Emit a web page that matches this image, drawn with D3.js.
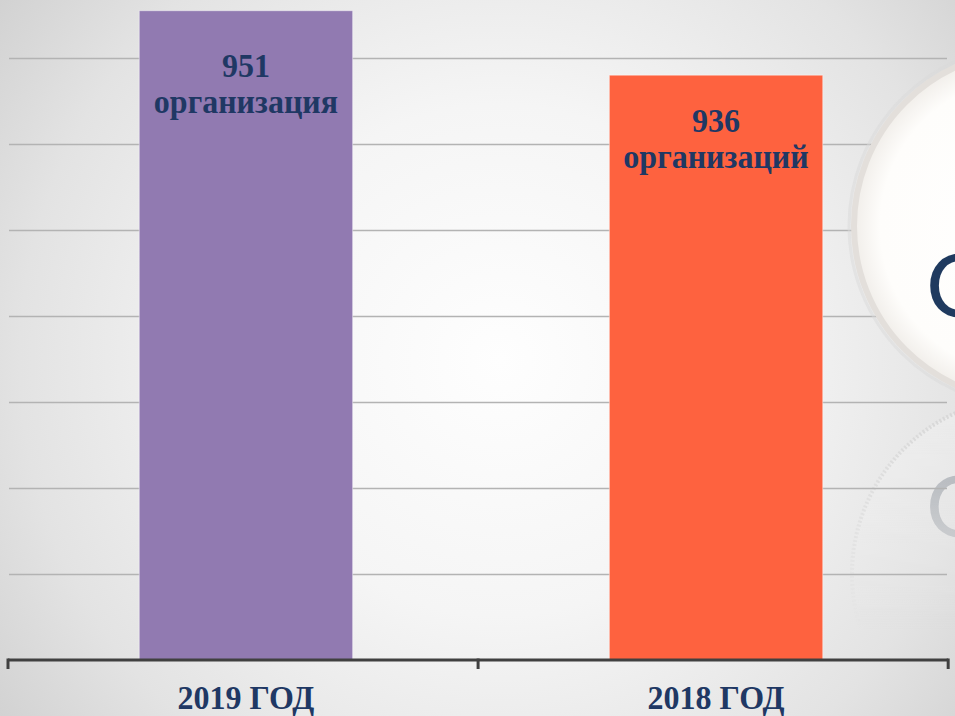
<!DOCTYPE html>
<html>
<head>
<meta charset="utf-8">
<script src="https://cdn.jsdelivr.net/npm/d3@7"></script>
<style>
  body { margin: 0; background: #e6e6e6; }
  svg { display: block; }
</style>
</head>
<body>
<div id="chart"></div>
<script>

var categories = ['2019 ГОД', '2018 ГОД'];
var values = [951, 936];
var value_labels = ['организация', 'организаций'];
var bar_colors = ['#917ab1', '#fe623f'];
var grid_values = [820, 840, 860, 880, 900, 920, 940];

var width = 955;
var height = 716;
var text_color = '#1f3864';
var serif = '"Liberation Serif", "Times New Roman", serif';

var svg = d3.select('#chart')
  .append('svg')
  .attr('width', width)
  .attr('height', height);

var defs = svg.append('defs');

// background gradient
var bg_grad = defs.append('radialGradient')
  .attr('id', 'bg_grad')
  .attr('gradientUnits', 'userSpaceOnUse')
  .attr('cx', 500)
  .attr('cy', 360)
  .attr('r', 640);
bg_grad.selectAll('stop')
  .data([[0, '#fefefe'], [0.4, '#f5f5f5'], [0.75, '#e3e3e3'], [1, '#cfcfcf']])
  .enter()
  .append('stop')
  .attr('offset', function(d){ return d[0]; })
  .attr('stop-color', function(d){ return d[1]; });

var disc_grad = defs.append('radialGradient')
  .attr('id', 'disc_grad');
disc_grad.selectAll('stop')
  .data([[0, '#ffffff'], [0.85, '#fefdfb'], [1, '#f1eeea']])
  .enter()
  .append('stop')
  .attr('offset', function(d){ return d[0]; })
  .attr('stop-color', function(d){ return d[1]; });

// fade for the reflection
var fade_grad = defs.append('linearGradient')
  .attr('id', 'fade_grad')
  .attr('gradientUnits', 'userSpaceOnUse')
  .attr('x1', 0).attr('y1', 400)
  .attr('x2', 0).attr('y2', 630);
fade_grad.selectAll('stop')
  .data([[0, 'white', 0.75], [1, 'white', 0]])
  .enter()
  .append('stop')
  .attr('offset', function(d){ return d[0]; })
  .attr('stop-color', function(d){ return d[1]; })
  .attr('stop-opacity', function(d){ return d[2]; });

defs.append('mask')
  .attr('id', 'fade_mask')
  .append('rect')
  .attr('width', width)
  .attr('height', height)
  .attr('fill', 'url(#fade_grad)');

svg.append('rect')
  .attr('width', width)
  .attr('height', height)
  .attr('fill', 'url(#bg_grad)');

// scales
var x = d3.scaleBand()
  .domain(categories)
  .range([9.5, 952.5])
  .paddingInner(0.546)
  .paddingOuter(0.276);

var y = d3.scaleLinear()
  .domain([800, 960])
  .range([660, -28]);

///////////////////////////
// reflected disc (behind grid)
///////////////////////////
var reflection = svg.append('g')
  .attr('mask', 'url(#fade_mask)');

reflection.append('circle')
  .attr('cx', 1029)
  .attr('cy', 574)
  .attr('r', 177)
  .attr('fill', '#f7f7f7')
  .attr('fill-opacity', 0.5)
  .attr('stroke', '#d2d2d2')
  .attr('stroke-width', 4)
  .attr('stroke-dasharray', '2 2');

reflection.append('text')
  .text('С')
  .attr('transform', 'translate(926, 476) scale(1, -1)')
  .style('font-family', 'Lato, "Open Sans", sans-serif')
  .style('font-size', '86px')
  .attr('fill', '#6f7885')
  .attr('opacity', 0.75);

///////////////////////////
// grid lines
///////////////////////////
svg.append('g')
  .selectAll('line')
  .data(grid_values)
  .enter()
  .append('line')
  .attr('x1', 9)
  .attr('x2', 947)
  .attr('y1', function(d){ return Math.round(y(d)) + 0.5; })
  .attr('y2', function(d){ return Math.round(y(d)) + 0.5; })
  .attr('stroke', '#b3b3b3')
  .attr('stroke-width', 1.4);

///////////////////////////
// front disc
///////////////////////////
svg.append('circle')
  .attr('cx', 1029)
  .attr('cy', 226)
  .attr('r', 180)
  .attr('fill', 'none')
  .attr('stroke', '#d9d9d9')
  .attr('stroke-opacity', 0.5)
  .attr('stroke-width', 3);

svg.append('circle')
  .attr('cx', 1029)
  .attr('cy', 226)
  .attr('r', 175)
  .attr('fill', 'url(#disc_grad)')
  .attr('stroke', '#e3dfdb')
  .attr('stroke-width', 6);

svg.append('text')
  .text('С')
  .attr('x', 926)
  .attr('y', 317)
  .style('font-family', 'Lato, "Open Sans", sans-serif')
  .style('font-size', '88px')
  .attr('fill', '#1f3a5f');

///////////////////////////
// bars
///////////////////////////
var bars = svg.append('g')
  .selectAll('g')
  .data(categories)
  .enter()
  .append('g');

bars.append('rect')
  .attr('x', function(d){ return x(d); })
  .attr('y', function(d, i){ return y(values[i]); })
  .attr('width', x.bandwidth())
  .attr('height', function(d, i){ return y(800) - y(values[i]); })
  .attr('fill', function(d, i){ return bar_colors[i]; })
  .attr('stroke', 'white')
  .attr('stroke-opacity', 0.45)
  .attr('stroke-width', 1);

// value labels, inside the top of each bar
var label_top = function(i){ return Math.max(y(values[i]), 20); };

bars.append('text')
  .text(function(d, i){ return values[i]; })
  .attr('transform', function(d, i){
    return 'translate(' + (x(d) + x.bandwidth() / 2) + ', ' + (label_top(i) + 57) + ') scale(1, 1.06)';
  })
  .style('font-family', serif)
  .style('font-weight', 700)
  .style('font-size', '32px')
  .style('text-anchor', 'middle')
  .attr('fill', text_color);

bars.append('text')
  .text(function(d, i){ return value_labels[i]; })
  .attr('transform', function(d, i){
    return 'translate(' + (x(d) + x.bandwidth() / 2) + ', ' + (label_top(i) + 93) + ') scale(1, 1.06)';
  })
  .style('font-family', serif)
  .style('font-weight', 700)
  .style('font-size', '32px')
  .style('text-anchor', 'middle')
  .attr('fill', text_color);

///////////////////////////
// category axis
///////////////////////////
var axis_g = svg.append('g');
var x0 = x.range()[0] - 1.5;
var boundaries = d3.range(categories.length + 1).map(function(i){ return x0 + i * x.step(); });

axis_g.append('line')
  .attr('x1', x0)
  .attr('x2', x0 + categories.length * x.step())
  .attr('y1', y(800))
  .attr('y2', y(800))
  .attr('stroke', '#404040')
  .attr('stroke-width', 3);

axis_g.selectAll('.tick')
  .data(boundaries)
  .enter()
  .append('line')
  .attr('x1', function(d){ return d; })
  .attr('x2', function(d){ return d; })
  .attr('y1', y(800) - 1.5)
  .attr('y2', y(800) + 9)
  .attr('stroke', '#404040')
  .attr('stroke-width', 3);

axis_g.selectAll('.cat')
  .data(categories)
  .enter()
  .append('text')
  .text(function(d){ return d; })
  .attr('transform', function(d){
    return 'translate(' + (x(d) + x.bandwidth() / 2) + ', 709) scale(1, 1.06)';
  })
  .style('font-family', serif)
  .style('font-weight', 700)
  .style('font-size', '32px')
  .style('text-anchor', 'middle')
  .attr('fill', text_color);

</script>
</body>
</html>
